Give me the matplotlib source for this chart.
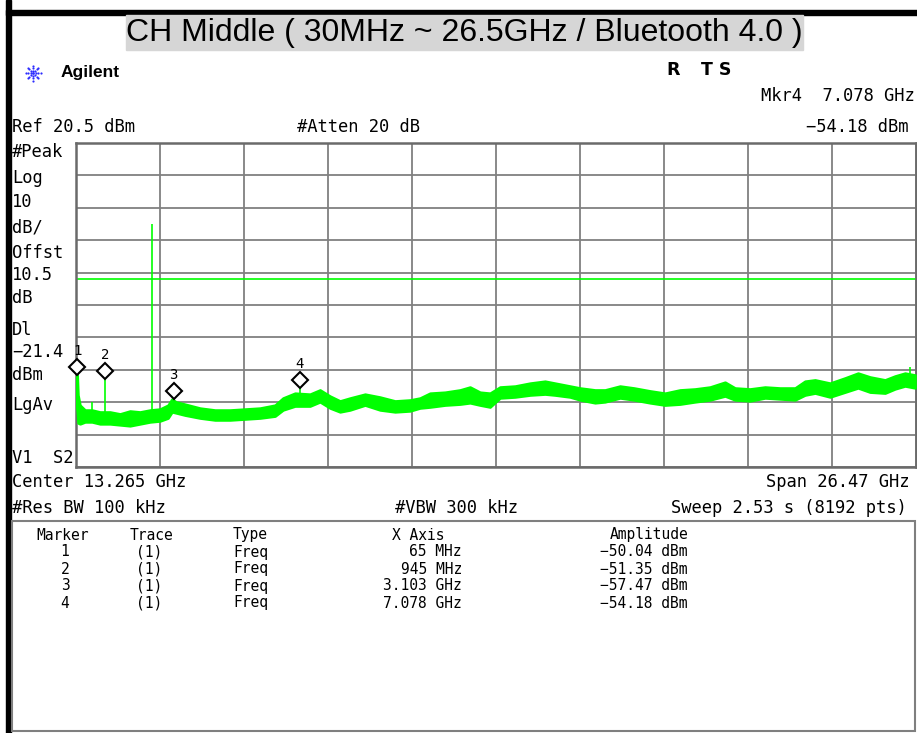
import numpy as np
import matplotlib
matplotlib.use("Agg")
import matplotlib.pyplot as plt
from matplotlib.patches import Rectangle
from matplotlib.transforms import offset_copy

# analyzer settings
start_ghz = 0.03
stop_ghz = 26.5
ref_level = 20.5
db_per_div = 10
display_line = -21.4

# trace envelope (GHz, upper / lower dBm of the noise band)
freq_ghz = [0.03, 0.065, 0.093, 0.156, 0.314, 0.534, 0.786, 1.101, 1.417, 1.732,
            2.047, 2.362, 2.677, 2.929, 3.055, 3.181, 3.465, 3.937, 4.410, 4.883,
            5.356, 5.828, 6.301, 6.553, 6.931, 7.404, 7.719, 8.034, 8.349, 8.664,
            9.137, 9.610, 10.083, 10.555, 10.870, 11.185, 11.658, 12.131, 12.446, 12.761,
            13.076, 13.391, 13.864, 14.336, 14.809, 15.124, 15.597, 15.912, 16.385, 16.700,
            17.172, 17.615, 18.118, 18.591, 19.063, 19.536, 20.009, 20.482, 20.797, 21.269,
            21.742, 22.215, 22.687, 23.002, 23.318, 23.790, 24.263, 24.673, 25.051, 25.524,
            25.839, 26.154, 26.47]
trace_hi = [-50.2, -50.0, -57.3, -60.4, -61.9, -61.9, -62.5, -62.5, -63.1, -62.2,
            -62.5, -61.9, -61.6, -60.4, -58.5, -59.4, -60.1, -61.3, -61.9, -61.9,
            -61.6, -61.3, -60.4, -58.2, -56.7, -57.0, -55.7, -57.6, -59.1, -58.2,
            -57.0, -57.9, -59.1, -58.8, -58.2, -56.7, -56.4, -55.7, -54.8, -56.4,
            -56.7, -54.8, -54.5, -53.6, -53.0, -53.6, -54.5, -55.1, -55.7, -55.7,
            -54.5, -55.1, -56.0, -56.7, -55.7, -55.4, -54.8, -53.3, -55.1, -55.4,
            -54.8, -55.1, -55.1, -53.0, -52.6, -53.6, -52.0, -50.5, -51.7, -52.6,
            -51.4, -50.5, -51.1]
trace_lo = [-60.0, -62.0, -65.9, -66.2, -65.6, -65.6, -66.2, -66.2, -66.5, -66.8,
            -66.2, -65.6, -65.3, -64.4, -62.5, -62.8, -63.5, -64.4, -65.0, -65.0,
            -64.7, -64.4, -63.8, -61.9, -60.7, -60.7, -59.4, -61.3, -62.5, -61.9,
            -60.4, -61.9, -62.5, -62.2, -61.3, -61.0, -60.4, -60.1, -59.7, -60.4,
            -61.0, -58.2, -57.9, -57.3, -57.0, -57.3, -57.9, -58.8, -59.7, -59.4,
            -58.2, -58.8, -59.7, -60.4, -60.1, -59.4, -58.8, -57.6, -58.8, -59.1,
            -58.2, -58.5, -58.8, -57.3, -56.7, -57.9, -56.4, -55.1, -56.4, -56.7,
            -55.4, -54.5, -55.1]

# narrow spurs sticking out of the band
spike_freq = [0.065, 0.534, 0.945, 2.44, 3.103, 7.078, 26.31]
spike_top = [-50.04, -59.4, -51.35, -4.5, -57.47, -54.18, -48.7]

# marker table
marker_id = ["1", "2", "3", "4"]
marker_freq = [0.065, 0.945, 3.103, 7.078]
marker_amp = [-50.04, -51.35, -57.47, -54.18]
marker_xaxis = ["65 MHz", "945 MHz", "3.103 GHz", "7.078 GHz"]
marker_ampl = ["−50.04 dBm", "−51.35 dBm", "−57.47 dBm", "−54.18 dBm"]

W, H = 917, 733
MONO = "DejaVu Sans Mono"
GREEN = "#00ff00"


def fx(x):
    return x / W


def fy(y):
    return 1 - y / H


def label(x, y, s, ha="left", size=12.3, **kw):
    fig.text(fx(x), fy(y), s, ha=ha, va="center", fontsize=size, family=MONO, **kw)


fig = plt.figure(figsize=(W / 100, H / 100), dpi=100)

# frame pieces of the screenshot
fig.add_artist(Rectangle((fx(6), 0), 5 / W, 1, transform=fig.transFigure, color="black"))
fig.add_artist(Rectangle((fx(6), fy(15)), 1, 5 / H, transform=fig.transFigure, color="black"))
fig.add_artist(Rectangle((fx(126), fy(50)), 677 / W, 35 / H, transform=fig.transFigure,
                         color="#d6d6d6"))
fig.text(fx(464), fy(33), "CH Middle ( 30MHz ~ 26.5GHz / Bluetooth 4.0 )", ha="center",
         va="center", fontsize=23, family="Liberation Sans")

# agilent logo
lax = fig.add_axes([fx(22), fy(84), 22 / W, 22 / H])
lax.set_xlim(-11, 11)
lax.set_ylim(-11, 11)
lax.axis("off")
for ang in np.arange(0, 360, 45):
    r = np.array([2.5, 5.0, 7.5])
    lax.scatter(r * np.cos(np.radians(ang)), r * np.sin(np.radians(ang)), s=2.5,
                color="#2b2bff", lw=0)
lax.scatter([0], [0], s=4, color="#2b2bff", lw=0)
fig.text(fx(61), fy(73), "Agilent", ha="left", va="center", fontsize=12.5,
         family="Liberation Sans", weight="bold")
fig.text(fx(666), fy(70), "R", ha="left", va="center", fontsize=12.5,
         family="DejaVu Sans", weight="bold")
fig.text(fx(701), fy(70), "T S", ha="left", va="center", fontsize=12.5,
         family="DejaVu Sans", weight="bold")

# header / footer annotations
label(915, 96, "Mkr4  7.078 GHz", ha="right")
label(908, 127, "−54.18 dBm", ha="right")
label(12, 127, "Ref 20.5 dBm")
label(297, 127, "#Atten 20 dB")
side = [("#Peak", 152), ("Log", 178), ("10", 202), ("dB/", 227), ("Offst", 253),
        ("10.5", 275), ("dB", 298), ("Dl", 330), ("−21.4", 352), ("dBm", 375),
        ("LgAv", 405), ("V1  S2", 458)]
for s, y in side:
    label(12, y, s)
label(12, 482, "Center 13.265 GHz")
label(910, 482, "Span 26.47 GHz", ha="right")
label(12, 508, "#Res BW 100 kHz")
label(395, 508, "#VBW 300 kHz")
label(907, 508, "Sweep 2.53 s (8192 pts)", ha="right")

# trace window
ax = fig.add_axes([fx(76), fy(467), 840 / W, 324 / H])
ax.set_xlim(start_ghz, stop_ghz)
ax.set_ylim(ref_level - 10 * db_per_div, ref_level)
ax.set_xticks(np.linspace(start_ghz, stop_ghz, 11))
ax.set_yticks(np.linspace(ref_level - 10 * db_per_div, ref_level, 11))
ax.tick_params(length=0, labelbottom=False, labelleft=False)
ax.grid(color="#808080", lw=1.3)
ax.set_axisbelow(True)
for sp in ax.spines.values():
    sp.set_color("#6a6a6a")
    sp.set_linewidth(1.8)

ax.axhline(display_line, color=GREEN, lw=1.2, zorder=2)
ax.fill_between(freq_ghz, trace_lo, trace_hi, color=GREEN, ec=GREEN, lw=1.8, zorder=3)
spike_base = np.interp(spike_freq, freq_ghz, trace_hi)
ax.vlines(spike_freq, spike_base, spike_top, color=GREEN, lw=1.2, zorder=3)

mk_tr = offset_copy(ax.transData, fig=fig, x=0, y=5, units="dots")
ax.plot(marker_freq, marker_amp, ls="none", marker="D", ms=8, mfc="white", mec="black",
        mew=1.5, transform=mk_tr, clip_on=False, zorder=5)
lab_tr = offset_copy(ax.transData, fig=fig, x=0, y=21, units="dots")
for m, f, a in zip(marker_id, marker_freq, marker_amp):
    ax.text(f, a, m, transform=lab_tr, ha="center", va="center", fontsize=10,
            family=MONO, zorder=6, clip_on=False)

# marker table
fig.add_artist(Rectangle((fx(12), fy(731)), 903 / W, 210 / H, transform=fig.transFigure,
                         fill=False, ec="#7f7f7f", lw=1.5))
ts = 10.5
label(63, 535, "Marker", ha="center", size=ts)
label(151, 535, "Trace", ha="center", size=ts)
label(233, 535, "Type", size=ts)
label(392, 535, "X Axis", size=ts)
label(688, 535, "Amplitude", ha="right", size=ts)
row_y = [552, 569, 586, 603]
for m, xa, am, y in zip(marker_id, marker_xaxis, marker_ampl, row_y):
    label(65, y, m, ha="center", size=ts)
    label(149, y, "(1)", ha="center", size=ts)
    label(233, y, "Freq", size=ts)
    label(462, y, xa, ha="right", size=ts)
    label(688, y, am, ha="right", size=ts)

fig.savefig("out.png", dpi=100)
